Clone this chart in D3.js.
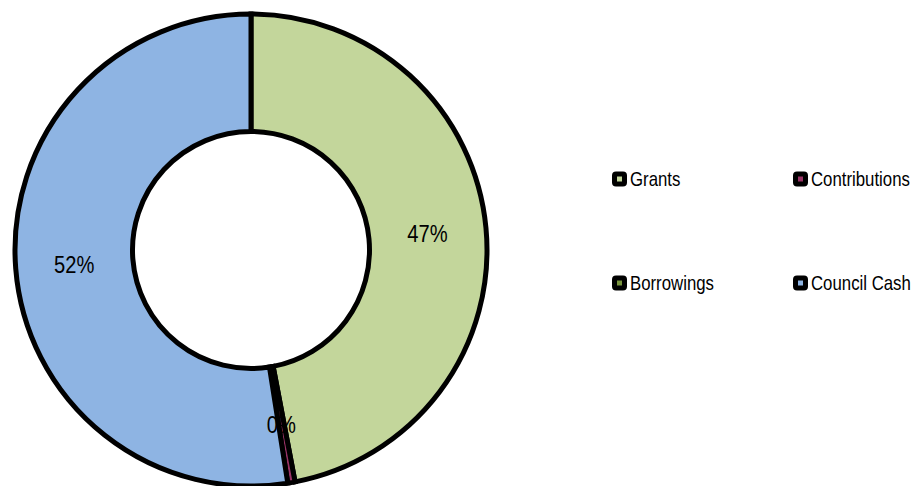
<!DOCTYPE html>
<html>
<head>
<meta charset="utf-8">
<script src="https://cdn.jsdelivr.net/npm/d3@7"></script>
<style>
  html, body { margin: 0; padding: 0; background: #ffffff; }
  svg { display: block; }
  text { font-family: "Liberation Sans", Arial, sans-serif; fill: #000; }
</style>
</head>
<body>
<script>
// Funding sources (share of total)
const categories = ["Grants", "Contributions", "Borrowings", "Council Cash"];
const shares = [47.01, 0.499, 0, 52.49];
const colors = ["#c3d69b", "#993366", "#77933c", "#8eb4e3"];

const width = 921, height = 486;
const cx = 251, cy = 250;
const outerR = 236, innerR = 118.5;
const squeeze = 0.84; // narrow-face look for all text

const svg = d3.select("body").append("svg")
  .attr("width", width).attr("height", height);

const data = categories.map((c, i) => ({ name: c, value: shares[i], color: colors[i] }));
const total = d3.sum(shares);

const pie = d3.pie().sort(null).value(d => d.value);
const arc = d3.arc().innerRadius(innerR).outerRadius(outerR);
const midR = (innerR + outerR) / 2;
const labelArc = d3.arc().innerRadius(midR).outerRadius(midR);
const pct = d3.format(".0%");

const g = svg.append("g").attr("transform", `translate(${cx},${cy})`);
const arcs = pie(data).filter(d => d.data.value > 0);

g.selectAll("path.slice").data(arcs).join("path")
  .attr("class", "slice")
  .attr("d", arc)
  .attr("fill", d => d.data.color)
  .attr("stroke", "#000")
  .attr("stroke-width", 5)
  .attr("stroke-linejoin", "miter");

g.selectAll("text.lbl").data(arcs).join("text")
  .attr("class", "lbl")
  .attr("transform", d => `translate(${labelArc.centroid(d)}) scale(${squeeze},1)`)
  .attr("text-anchor", "middle")
  .attr("dy", "0.36em")
  .attr("font-size", 24)
  .text(d => pct(d.data.value / total));

// Legend: two columns, two rows
const colX = [612, 793];
const rowY = [179, 283];
const leg = svg.append("g").selectAll("g").data(data).join("g")
  .attr("transform", (d, i) => `translate(${colX[i % 2]},${rowY[Math.floor(i / 2)]})`);

leg.append("rect")
  .attr("x", 2.5).attr("y", -5)
  .attr("width", 10).attr("height", 10)
  .attr("rx", 1.5)
  .attr("fill", d => d.color)
  .attr("stroke", "#000")
  .attr("stroke-width", 5);

leg.append("text")
  .attr("transform", `translate(18,7) scale(${squeeze},1)`)
  .attr("font-size", 20)
  .text(d => d.name);
</script>
</body>
</html>
